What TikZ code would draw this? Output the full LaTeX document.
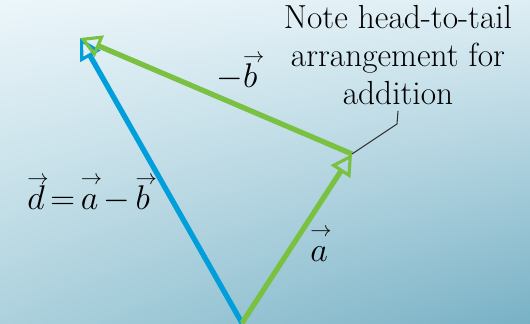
\RequirePackage{fix-cm}
\documentclass[tikz,border=0pt]{standalone}
\usepackage{amsmath,amssymb}
\usepackage{xcolor}
\usepackage{tikz}
\usetikzlibrary{arrows.meta,positioning,calc,shadings}
\definecolor{vgreen}{RGB}{122,193,66}
\definecolor{vblue}{RGB}{0,158,219}
\definecolor{bgul}{RGB}{236,246,250}
\definecolor{bgur}{RGB}{222,238,244}
\definecolor{bgll}{RGB}{172,209,221}
\definecolor{bglr}{RGB}{120,177,197}
\newcommand{\varw}[1]{\mathord{\rlap{\raisebox{0.75em}{\scalebox{0.62}{$\rightarrow$}}}#1}}

\begin{document}
\begin{tikzpicture}[vec/.style={line width=3pt,-{Triangle[open,length=12pt,width=13pt,line width=1.8pt]}}, lbl/.style={inner sep=0pt,anchor=base west,font=\fontsize{19.5}{24}\selectfont}, note/.style={align=center,font=\fontsize{19}{21.6}\selectfont}, lead/.style={draw=black!80,line width=0.6pt}]
\useasboundingbox (0,0) rectangle (10.6,6.48);
\shade[upper left=bgul,upper right=bgur,lower left=bgll,lower right=bglr] (0,0) rectangle (10.6,6.48);
\coordinate (o) at (4.84,0.02);
\coordinate (a) at (7.04,3.40);
\coordinate (b) at (1.60,5.72);
\coordinate (kink) at (7.94,4.00);
\node[note,anchor=south] (note) at (7.96,4.26) {Note head-to-tail\\arrangement for\\addition};
\draw[vec,vblue] (o)--(b);
\draw[vec,vgreen] (o)--(a);
\draw[vec,vgreen] (a)--(b);
\draw[lead] (a)--(kink)--(note.south);
\node[lbl] (la) at (6.20,1.24) {$\varw{a}$};
\node[lbl] (lb) at (4.32,4.72) {$-\varw{b}$};
\node[lbl] (ld) at (0.54,2.28) {$\varw{d}\mkern3mu{=}\mkern3mu\varw{a}\mkern2.5mu{-}\mkern3mu\varw{b}$};
\end{tikzpicture}
\end{document}
